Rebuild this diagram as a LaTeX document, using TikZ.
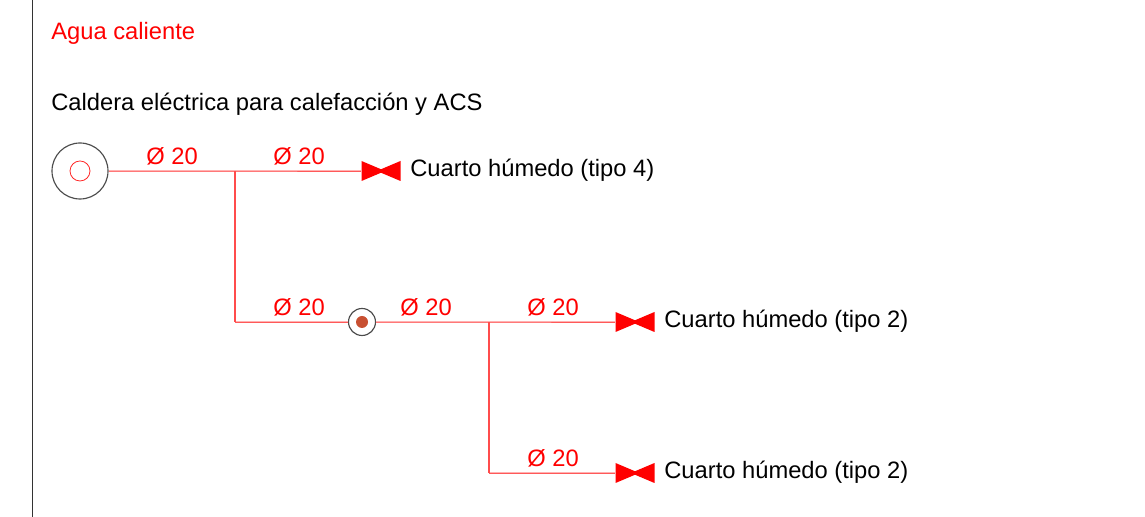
\documentclass[tikz,border=0pt]{standalone}
\usepackage{fontspec}
\setmainfont{Liberation Sans}
\definecolor{dotbrown}{RGB}{200,80,50}
\tikzset{
  txt/.style = {anchor = west, inner sep = 0pt, font = \fontsize{13.5}{15}\selectfont},
  dia/.style = {inner sep = 0pt, color = red, font = \fontsize{13.5}{15}\selectfont},
  hpipe/.style = {draw = red!30, double = red!65, double distance = .5pt, line width = .5pt},
  vpipe/.style = {draw = red!70, line width = .62pt},
  valve/.style = {inner sep = 0pt, minimum width = .78cm, minimum height = .4cm,
    path picture = {\fill [red] (path picture bounding box.north west)
      -- ([yshift = .035cm]path picture bounding box.center)
      -- (path picture bounding box.north east)
      -- (path picture bounding box.south east)
      -- ([yshift = -.035cm]path picture bounding box.center)
      -- (path picture bounding box.south west) -- cycle;}}
}
\begin{document}
\begin{tikzpicture}
\useasboundingbox (0,0) rectangle (22.9,10.34);
\coordinate (top) at (.64,10.34);
\coordinate (bot) at (.64,0);
\draw [color = black!80, line width = .5pt] (top) -- (bot);
\node [txt, color = red] (title) at (1.02,9.68) {Agua caliente};
\node [txt] (sub) at (1.02,8.26) {Caldera eléctrica para calefacción y ACS};
% boiler and riser
\node [circle, draw = black!70, line width = .65pt, minimum size = 1.12cm, inner sep = 0pt] (boiler) at (1.6,6.92) {};
\node [circle, draw = red!85, line width = .45pt, minimum size = .4cm, inner sep = 0pt] at (1.6,6.92) {};
\node [circle, draw = black!70, line width = .65pt, minimum size = .54cm, inner sep = 0pt] (riser) at (7.24,3.9) {};
\node [circle, fill = dotbrown, minimum size = .24cm, inner sep = 0pt] at (7.24,3.9) {};
% junctions
\coordinate (j1) at (4.7,6.92);
\coordinate (j2) at (4.7,3.9);
\coordinate (j3) at (9.78,3.9);
\coordinate (j4) at (9.78,.88);
% valves
\node [valve] (v1) at (7.62,6.92) {};
\node [valve] (v2) at (12.7,3.9) {};
\node [valve] (v3) at (12.7,.88) {};
% pipes
\draw [hpipe] (boiler) -- (j1) -- (v1);
\draw [hpipe] (j2) -- (riser);
\draw [hpipe] (riser) -- (j3) -- (v2);
\draw [hpipe] (j4) -- (v3);
\draw [vpipe] (j1) -- (j2);
\draw [vpipe] (j3) -- (j4);
% labels
\node [dia] at (3.44,7.22) {Ø 20};
\node [dia] at (5.98,7.22) {Ø 20};
\node [dia] at (5.98,4.2) {Ø 20};
\node [dia] at (8.52,4.2) {Ø 20};
\node [dia] at (11.06,4.2) {Ø 20};
\node [dia] at (11.06,1.18) {Ø 20};
\node [txt] (room1) at (8.2,6.94) {Cuarto húmedo (tipo 4)};
\node [txt] (room2) at (13.28,3.92) {Cuarto húmedo (tipo 2)};
\node [txt] (room3) at (13.28,.9) {Cuarto húmedo (tipo 2)};
\end{tikzpicture}
\end{document}
